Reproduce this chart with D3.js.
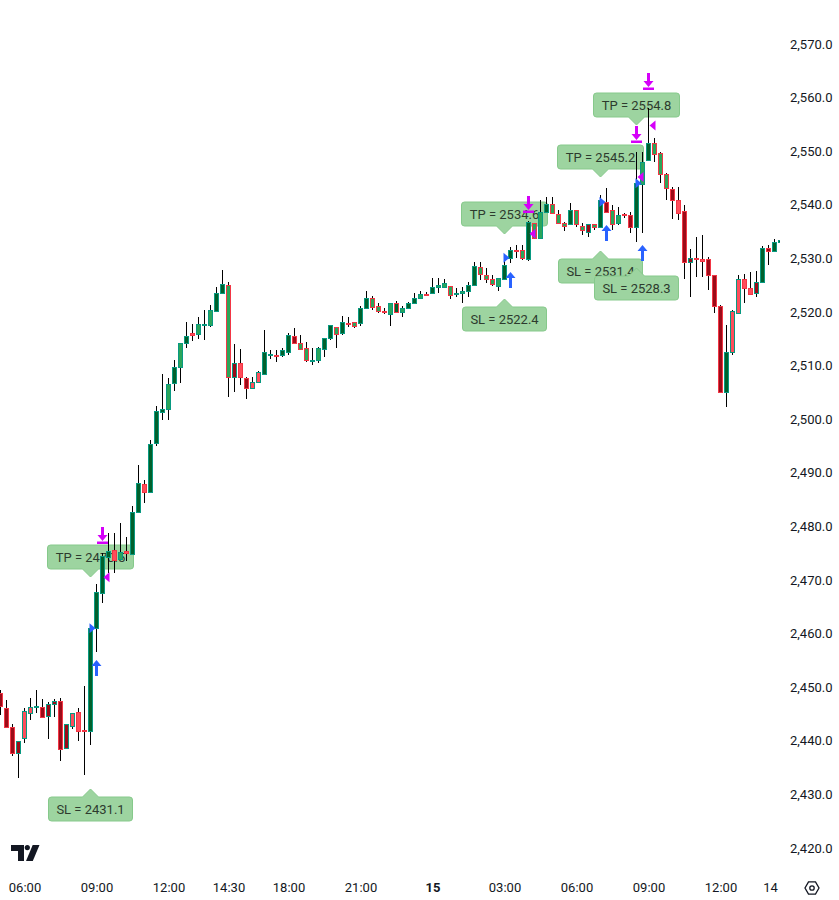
<!DOCTYPE html>
<html lang="en">
<head>
<meta charset="UTF-8">
<title>Gold 15m with TP / SL</title>
<script src="https://d3js.org/d3.v7.min.js"></script>
<style>
    body { margin: 0; background: #fff; }
    svg text { font-family: Roboto, "Noto Sans", sans-serif; fill: #131722; }
</style>
</head>
<body>
<div id="chart"></div>
<script>
    // OHLC for each 15 minute bar, left to right
    const opens = [2448.9,2446.1,2442.6,2437.7,2440.5,2445.2,2446.4,2446.3,2444.6,2446.9,
        2447.4,2438.7,2442.8,2445.4,2442.1,2441.8,2461.0,2467.6,2474.3,2475.6,
        2473.9,2475.4,2474.9,2482.7,2487.9,2486.4,2495.6,2501.3,2501.9,2506.8,
        2509.7,2514.2,2516.0,2515.9,2517.7,2517.6,2520.2,2523.5,2525.0,2507.9,
        2510.5,2507.7,2505.8,2506.9,2508.4,2512.1,2512.0,2512.0,2512.5,2515.5,
        2514.2,2513.3,2511.0,2511.0,2513.1,2515.2,2517.2,2516.1,2518.0,2518.1,
        2518.0,2520.8,2522.6,2521.1,2520.1,2519.6,2521.7,2520.0,2520.8,2521.7,
        2522.6,2523.4,2523.5,2524.7,2524.7,2524.9,2523.5,2523.5,2523.9,2525.0,
        2528.4,2526.9,2526.2,2524.9,2526.2,2530.1,2531.6,2531.6,2529.9,2536.6,
        2533.8,2538.7,2540.2,2538.3,2536.6,2536.4,2539.0,2536.0,2534.9,2536.4,
        2535.9,2540.5,2539.0,2536.6,2538.3,2538.1,2535.9,2543.9,2548.4,2551.5,
        2549.7,2545.8,2543.0,2540.9,2538.8,2529.3,2530.1,2529.9,2529.9,2526.9,
        2521.1,2505.1,2512.5,2519.8,2526.2,2524.5,2523.5,2525.6,2531.9,2531.4,
        2533.0];
    const highs = [2449.5,2447.6,2443.1,2440.0,2446.1,2448.0,2449.5,2447.8,2447.2,2447.8,
        2448.0,2443.1,2445.2,2446.1,2450.2,2461.0,2469.3,2475.0,2478.8,2478.8,
        2480.6,2478.0,2483.8,2491.5,2488.7,2496.1,2502.5,2508.4,2507.7,2511.0,
        2514.2,2518.1,2517.8,2519.1,2520.4,2521.3,2524.7,2527.8,2525.6,2514.0,
        2513.1,2507.9,2507.9,2509.0,2516.6,2512.9,2512.9,2513.3,2516.1,2517.0,
        2515.7,2514.4,2513.3,2513.5,2515.2,2517.6,2517.2,2519.3,2519.1,2518.1,
        2521.1,2523.9,2523.0,2521.7,2520.8,2521.7,2522.1,2521.1,2521.9,2523.5,
        2523.9,2523.7,2526.3,2526.3,2526.2,2524.9,2524.5,2524.7,2525.6,2529.3,
        2529.3,2528.2,2526.9,2526.3,2530.5,2532.1,2532.5,2532.5,2537.0,2536.6,
        2540.9,2541.5,2541.5,2539.0,2536.8,2540.3,2539.0,2536.6,2536.4,2536.4,
        2541.8,2543.1,2540.0,2539.6,2538.5,2538.7,2549.9,2549.9,2558.1,2552.5,
        2549.9,2545.9,2543.3,2543.3,2540.0,2531.8,2534.0,2534.4,2530.3,2526.9,
        2521.3,2517.6,2520.4,2526.9,2527.1,2527.5,2527.7,2532.3,2532.5,2533.6,
        2533.6];
    const lows = [2444.8,2442.4,2437.2,2433.0,2439.6,2443.9,2445.2,2444.4,2440.3,2444.4,
        2436.2,2438.7,2442.2,2440.0,2433.6,2439.2,2456.6,2465.7,2471.3,2471.3,
        2473.7,2473.5,2474.9,2482.7,2484.4,2486.2,2495.0,2499.9,2499.9,2505.3,
        2506.8,2513.3,2514.6,2515.0,2514.8,2517.2,2520.0,2523.5,2504.1,2505.1,
        2506.4,2503.8,2505.8,2506.8,2508.4,2511.2,2510.7,2511.6,2512.0,2514.2,
        2512.9,2510.7,2510.1,2510.5,2511.6,2514.8,2513.3,2515.7,2517.2,2517.0,
        2517.4,2520.6,2520.4,2519.8,2519.6,2517.4,2520.0,2519.1,2520.6,2521.7,
        2522.4,2523.2,2523.5,2523.5,2524.7,2522.4,2522.8,2521.7,2522.8,2524.9,
        2526.0,2525.4,2524.9,2523.9,2526.2,2529.1,2530.1,2529.7,2529.5,2533.6,
        2533.6,2538.7,2538.3,2536.6,2535.1,2536.4,2535.9,2534.4,2534.0,2535.3,
        2535.9,2538.5,2535.3,2536.2,2537.5,2534.7,2533.1,2534.7,2548.4,2548.0,
        2544.1,2540.9,2537.4,2537.2,2526.2,2522.8,2526.5,2526.5,2524.1,2519.8,
        2504.9,2502.3,2512.0,2519.8,2521.7,2523.4,2522.8,2525.6,2528.8,2531.2,
        2532.9];
    const closes = [2446.5,2442.6,2437.7,2440.0,2445.6,2446.3,2446.5,2444.4,2446.9,2447.4,
        2438.5,2443.1,2445.2,2441.8,2442.0,2461.0,2467.8,2474.5,2475.4,2473.7,
        2475.2,2475.0,2482.7,2488.1,2486.4,2495.4,2501.5,2501.9,2506.6,2509.7,
        2514.2,2515.5,2515.8,2517.8,2517.8,2520.4,2523.5,2525.2,2507.9,2510.5,
        2507.9,2505.8,2506.9,2508.8,2512.5,2512.2,2511.9,2512.9,2515.7,2514.2,
        2513.1,2511.0,2511.1,2513.3,2515.2,2517.6,2515.9,2518.1,2517.9,2517.4,
        2520.8,2522.6,2520.9,2520.2,2520.0,2521.7,2520.0,2520.8,2521.7,2522.6,
        2523.4,2523.3,2524.7,2525.0,2525.4,2523.2,2523.6,2523.9,2525.0,2528.6,
        2527.1,2526.2,2525.2,2526.3,2528.8,2531.6,2531.5,2530.1,2536.8,2533.8,
        2538.7,2540.2,2538.5,2536.6,2536.0,2539.0,2536.4,2535.3,2536.4,2535.9,
        2540.9,2538.7,2536.4,2538.1,2538.2,2535.9,2544.1,2548.0,2551.5,2549.5,
        2545.8,2543.1,2540.9,2538.5,2529.3,2530.1,2530.0,2529.5,2526.9,2521.1,
        2505.1,2512.5,2520.2,2526.2,2524.5,2523.4,2525.6,2531.9,2531.4,2533.1,
        2533.4];
    // body shade from the trend study: G = strong bull, g = bull, R = strong bear, r = bear
    const shades = ("RRRRrrgRRRRRrrrGGGGrgrGGrGGGgGgGrgggGGgRrRrrGGrGGRggggGGgGrgGGggrgGgGGgrGgggggGGggggGGrgGggGgggGggRgGRggrRGgGgggRrRRrrRRRGrrrrRGRGG").split("");

    // trades: entry bar, label bar, levels and marker anchors
    const labelBar = [15, 84, 100, 106];
    const entryBar = [16, 85, 101, 107];
    const exitBar = [17, 88, 106, 108];
    const entryPrice = [2461.0, 2530.1, 2540.5, 2544.0];
    const takeProfit = [2470.5, 2534.6, 2545.2, 2554.8];
    const stopLoss = [2431.1, 2522.4, 2531.4, 2528.3];
    const entryArrowAt = [2455.1, 2527.5, 2536.2, 2532.5];
    const exitArrowAt = [2476.8, 2538.5, 2551.5, 2561.4];

    const priceTicks = d3.range(2420, 2571, 10);
    const timeTicks = [4, 16, 28, 38, 48, 60, 72, 84, 96, 108, 120, 128.25];
    const timeLabels = ["06:00", "09:00", "12:00", "14:30", "18:00", "21:00", "15", "03:00", "06:00", "09:00", "12:00", "14"];

    const width = 839, height = 900;
    const plotRight = 780;

    const candles = opens.map((o, i) => ({i, o, h: highs[i], l: lows[i], c: closes[i], s: shades[i]}));

    const x = d3.scaleLinear().domain([0, 130]).range([0.5, 780.5]);
    const y = d3.scaleLinear().domain([2420, 2570]).range([848, 44]);

    const upColor = "#089981", downColor = "#f23645";
    const shadeColor = {G: "#00612c", g: "#2ba55a", R: "#9c0b18", r: "#ff4d5b"};
    const blue = "#2962ff", magenta = "#d500f9";

    const svg = d3.select("#chart").append("svg")
        .attr("width", width)
        .attr("height", height);

    svg.append("defs").append("clipPath").attr("id", "plot")
        .append("rect").attr("x", 0).attr("y", 0).attr("width", plotRight).attr("height", 870);

    const plot = svg.append("g").attr("clip-path", "url(#plot)");

    // TP / SL labels (under the candles)
    const labels = [];
    labelBar.forEach((b, k) => {
        labels.push({b, price: takeProfit[k], text: `TP = ${takeProfit[k].toFixed(1)}`, dir: -1});
        labels.push({b, price: stopLoss[k], text: `SL = ${stopLoss[k].toFixed(1)}`, dir: 1});
    });

    labels.forEach(lb => {
        const g = plot.append("g").attr("transform", `translate(${x(lb.b)},${Math.round(y(lb.price))})`);
        const path = g.append("path");
        const t = g.append("text")
            .attr("y", lb.dir * 20)
            .attr("dy", "0.35em")
            .attr("text-anchor", "middle")
            .style("font-size", "13px")
            .style("fill", "#2d3b2e")
            .text(lb.text);
        const hw = Math.round(t.node().getComputedTextLength() / 2 + 8);
        const s = lb.dir, r = 3, near = 8 * s, far = 32 * s, pw = 8;
        const p = d3.path();
        p.moveTo(0, 0);
        p.lineTo(pw, near);
        p.lineTo(hw - r, near);
        p.quadraticCurveTo(hw, near, hw, near + r * s);
        p.lineTo(hw, far - r * s);
        p.quadraticCurveTo(hw, far, hw - r, far);
        p.lineTo(-hw + r, far);
        p.quadraticCurveTo(-hw, far, -hw, far - r * s);
        p.lineTo(-hw, near + r * s);
        p.quadraticCurveTo(-hw, near, -hw + r, near);
        p.lineTo(-pw, near);
        p.closePath();
        path.attr("d", p.toString())
            .attr("fill", "#9dd4a0")
            .attr("stroke", "#86c98b")
            .attr("stroke-width", 1);
    });

    // wicks
    plot.selectAll("line.wick").data(candles).join("line")
        .attr("class", "wick")
        .attr("x1", d => x(d.i)).attr("x2", d => x(d.i))
        .attr("y1", d => Math.round(y(d.h))).attr("y2", d => Math.round(y(d.l)))
        .attr("stroke", "#000").attr("stroke-width", 1);

    // bodies
    plot.selectAll("rect.body").data(candles).join("rect")
        .attr("class", "body")
        .attr("x", d => x(d.i) - 2)
        .attr("width", 4)
        .attr("y", d => Math.round(y(Math.max(d.o, d.c))) + 0.5)
        .attr("height", d => Math.max(1, Math.round(y(Math.min(d.o, d.c))) - Math.round(y(Math.max(d.o, d.c)))))
        .attr("fill", d => shadeColor[d.s])
        .attr("stroke", d => d.c >= d.o ? upColor : downColor)
        .attr("stroke-width", 1);

    // entry markers: blue triangle pointing at the bar, arrow below
    entryBar.forEach((b, k) => {
        const cx = x(b), py = y(entryPrice[k]);
        plot.append("path")
            .attr("d", `M${cx - 1},${py} L${cx - 7},${py - 5} L${cx - 7},${py + 5} Z`)
            .attr("fill", blue);
        const ay = Math.round(y(entryArrowAt[k]));
        plot.append("path")
            .attr("d", `M${cx},${ay} L${cx + 5},${ay + 6} L${cx + 1.5},${ay + 6} L${cx + 1.5},${ay + 16} L${cx - 1.5},${ay + 16} L${cx - 1.5},${ay + 6} L${cx - 5},${ay + 6} Z`)
            .attr("fill", blue);
    });

    // exit markers: magenta triangle at the TP level, arrow to bar above
    exitBar.forEach((b, k) => {
        const cx = x(b), py = y(takeProfit[k]);
        plot.append("path")
            .attr("d", `M${cx + 1},${py} L${cx + 7},${py - 5} L${cx + 7},${py + 5} Z`)
            .attr("fill", magenta);
        const ay = Math.round(y(exitArrowAt[k]));
        plot.append("path")
            .attr("d", `M${cx - 1.5},${ay - 17} L${cx + 1.5},${ay - 17} L${cx + 1.5},${ay - 9} L${cx + 5},${ay - 9} L${cx},${ay - 3} L${cx - 5},${ay - 9} L${cx - 1.5},${ay - 9} Z`)
            .attr("fill", magenta);
        plot.append("rect")
            .attr("x", cx - 5.5).attr("y", ay - 2.5).attr("width", 11).attr("height", 2.5)
            .attr("fill", magenta);
    });

    // price scale
    const yAxis = svg.append("g")
        .attr("transform", "translate(790,0)")
        .call(d3.axisRight(y).tickValues(priceTicks).tickFormat(d3.format(",.1f")).tickSize(0).tickPadding(0));
    yAxis.select(".domain").remove();
    yAxis.selectAll("text").style("font-size", "13px").style("font-family", "Roboto, sans-serif");

    // time scale
    const xAxis = svg.append("g")
        .attr("transform", "translate(0,875)")
        .call(d3.axisBottom(x).tickValues(timeTicks).tickFormat((d, i) => timeLabels[i]).tickSize(0).tickPadding(8));
    xAxis.select(".domain").remove();
    xAxis.selectAll("text")
        .style("font-size", "13px")
        .style("font-family", "Roboto, sans-serif")
        .style("font-weight", (d, i) => timeLabels[i] === "15" ? "bold" : "normal");

    // logo bottom left
    const logo = svg.append("g").attr("fill", "#131722");
    logo.append("path").attr("d", "M11,845 H24 V861 H18 V851 H11 Z");
    logo.append("circle").attr("cx", 27.3).attr("cy", 847.6).attr("r", 2.6);
    logo.append("path").attr("d", "M26,861 L32.7,845 H39.5 L32.8,861 Z");

    // settings hexagon bottom right
    const hex = d3.range(6).map(k => [812 + 7 * Math.cos(k * Math.PI / 3), 888 + 7 * Math.sin(k * Math.PI / 3)]);
    svg.append("path")
        .attr("d", d3.line()(hex) + "Z")
        .attr("fill", "none").attr("stroke", "#131722").attr("stroke-width", 1.3);
    svg.append("circle").attr("cx", 812).attr("cy", 888).attr("r", 2.2)
        .attr("fill", "none").attr("stroke", "#131722").attr("stroke-width", 1.3);
</script>
</body>
</html>
